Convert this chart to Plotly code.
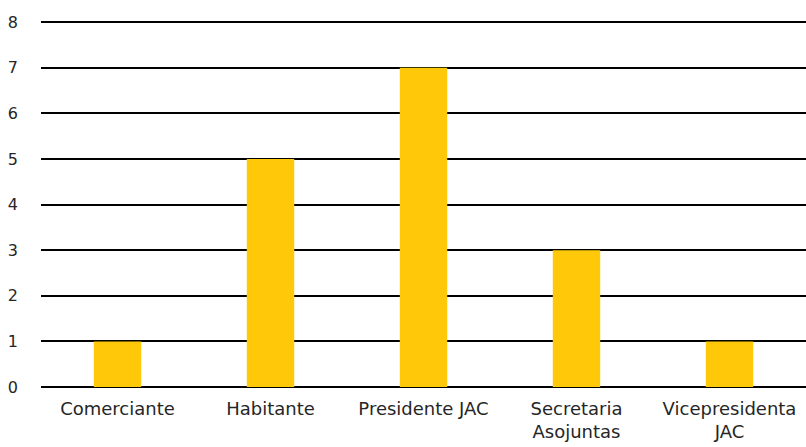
import plotly.graph_objects as go

categories = ["Comerciante", "Habitante", "Presidente JAC", "Secretaria<br>Asojuntas", "Vicepresidenta<br>JAC"]
values = [1, 5, 7, 3, 1]
y_ticks = [0, 1, 2, 3, 4, 5, 6, 7, 8]

fig = go.Figure()
fig.add_trace(go.Bar(x=categories, y=values, marker=dict(color="#FFC90A", line=dict(width=0))))

fig.update_layout(
    width=806, height=447,
    margin=dict(l=41, r=0, t=20, b=60),
    plot_bgcolor="white", paper_bgcolor="white",
    bargap=0.69,
    showlegend=False,
    font=dict(family="DejaVu Sans, sans-serif", size=18, color="#262626"),
)
fig.update_xaxes(showgrid=False, showline=False, ticks="", tickfont=dict(size=18), ticklabelstandoff=9)
fig.update_yaxes(range=[0, 8.05], tickvals=y_ticks, showgrid=True, gridcolor="black", gridwidth=2,
                 zeroline=True, zerolinecolor="black", zerolinewidth=2,
                 tickfont=dict(size=16), ticklabelstandoff=22, showline=False)

fig.write_html("out.html")
